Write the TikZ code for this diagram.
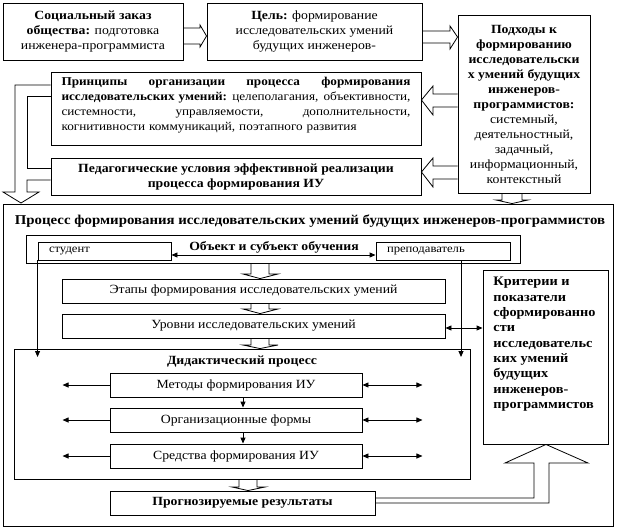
\documentclass[tikz,border=0pt]{standalone}
\usepackage{fontspec}
\setmainfont{Liberation Serif}[FakeStretch=1.1]
\usetikzlibrary{arrows.meta}
\newcommand\jl[1]{\leavevmode\hbox to \linewidth{#1}}
\begin{document}
\begin{tikzpicture}[x=1pt,y=-1pt, line width=0.9pt,
  box/.style={draw, fill=white, inner sep=0pt, align=center},
  blk/.style={draw, line width=0.8pt, line join=miter},
  tip/.style={-{Triangle[length=6pt,width=5pt]}},
  tips/.style={{Triangle[length=6pt,width=5pt]}-{Triangle[length=6pt,width=5pt]}},
  every node/.style={font=\fontsize{12.5}{15}\selectfont}]
\useasboundingbox (0,0) rectangle (618,530);
\fill[white] (0,0) rectangle (618,530);
% top row
\node[box, minimum width=180pt, minimum height=57pt] (soc) at (93,31.5)
  {\textbf{Социальный заказ}\\\textbf{общества:} подготовка\\инженера-программиста};
\node[box, minimum width=215pt, minimum height=57pt] (goal) at (314.5,31.5)
  {\textbf{Цель:} формирование\\исследовательских умений\\будущих инженеров-};
\node[box, minimum width=132pt, minimum height=178pt] (podh) at (524,104)
  {\textbf{Подходы к}\\\textbf{формированию}\\\textbf{исследовательски}\\\textbf{х умений будущих}\\\textbf{инженеров-}\\\textbf{программистов:}\\системный,\\деятельностный,\\задачный,\\информационный,\\контекстный};
\node[box, minimum width=370pt, minimum height=73pt] (princ) at (236,108.5) {};
\node[text width=349pt, align=left, inner sep=0pt, font=\fontsize{12}{15}\selectfont] (princT) at (236,105)
  {\jl{\bfseries Принципы\hfill организации\hfill процесса\hfill формирования}\\
   \jl{\textbf{исследовательских умений:}\hfill целеполагания,\hfill объективности,}\\
   \jl{системности,\hfill управляемости,\hfill дополнительности,}\\
   когнитивности коммуникаций, поэтапного развития};
\node[box, minimum width=370pt, minimum height=37pt] (ped) at (236,176.5)
  {\textbf{Педагогические условия эффективной реализации}\\\textbf{процесса формирования ИУ}};
% block arrows top
\draw[blk] (soc.east |- 0,28) -- (200,28) -- (200,25) -- (goal.west |- 0,36) -- (200,47) -- (200,44) -- (soc.east |- 0,44);
\draw[blk] (goal.east |- 0,31) -- (450,31) -- (450,26) -- (podh.west |- 0,37) -- (450,49) -- (450,43) -- (goal.east |- 0,43);
\draw[blk] (podh.west |- 0,94) -- (433,94) -- (433,86) -- (princ.east |- 0,100) -- (433,115) -- (433,107) -- (podh.west |- 0,107);
\draw[blk] (podh.west |- 0,166) -- (433,166) -- (433,158) -- (ped.east |- 0,172) -- (433,187) -- (433,179) -- (podh.west |- 0,179);
% left composite arrow
\draw[blk] (princ.west |- 0,85) -- (15,85) -- (15,192) -- (3,192) -- (21,203) -- (39,192) -- (27,192) -- (27,180) -- (ped.west |- 0,180);
\draw[blk] (princ.west |- 0,96) -- (27,96) -- (27,168) -- (ped.west |- 0,168);
% big box
\node[box, minimum width=610pt, minimum height=322pt] (big) at (308,365) {};
\node[inner sep=0pt, font=\fontsize{13.5}{15}\selectfont] (bigT) at (310,221) {\textbf{Процесс формирования исследовательских умений будущих инженеров-программистов}};
\draw[blk] (podh.south -| 502,0) -- (502,200) -- (496,200) -- (big.north -| 512,0) -- (528,200) -- (522,200) -- (podh.south -| 522,0);
% object/subject
\node[box, minimum width=494pt, minimum height=28pt] (obj) at (273,249) {};
\node[box, minimum width=133pt, minimum height=18pt] (stud) at (104.5,251) {};
\node[anchor=west, inner sep=0pt, font=\fontsize{11.5}{14}\selectfont] (studT) at ([xshift=11pt]stud.west) {студент};
\node[box, minimum width=134pt, minimum height=18pt] (prep) at (443,251) {};
\node[anchor=west, inner sep=0pt, font=\fontsize{11.5}{14}\selectfont] (prepT) at ([xshift=11pt]prep.west) {преподаватель};
\node[inner sep=0pt] (objT) at (274,247) {\textbf{Объект и субъект обучения}};
\draw[tips] (stud.east |- 0,255) -- (prep.west |- 0,255);
% criteria
\node[box, minimum width=125pt, minimum height=174pt] (krit) at (545.5,357) {};
\node[anchor=north west, align=left, inner sep=0pt, font=\fontsize{13}{15.3}\selectfont] (kritT) at (493,277)
  {\textbf{Критерии и}\\\textbf{показатели}\\\textbf{сформированно}\\\textbf{сти}\\\textbf{исследовательс}\\\textbf{ких умений}\\\textbf{будущих}\\\textbf{инженеров-}\\\textbf{программистов}};
% stages / levels
\node[box, minimum width=383pt, minimum height=24pt] (etap) at (253.5,291) {Этапы формирования исследовательских умений};
\node[box, minimum width=383pt, minimum height=24pt] (urov) at (253.5,326) {Уровни исследовательских умений};
\draw[blk] (obj.south -| 251,0) -- (251,274) -- (243,274) -- (etap.north -| 260,0) -- (278,274) -- (269,274) -- (obj.south -| 269,0);
\draw[blk] (etap.south -| 251,0) -- (251,309) -- (243,309) -- (urov.north -| 260,0) -- (278,309) -- (269,309) -- (etap.south -| 269,0);
\draw[tips] (urov.east |- 0,328) -- (krit.west |- 0,328);
% didactic process
\node[box, minimum width=456pt, minimum height=130pt] (did) at (242,414) {};
\node[inner sep=0pt] (didT) at (242,362) {\textbf{Дидактический процесс}};
\draw[blk] (urov.south -| 251,0) -- (251,345) -- (243,345) -- (did.north -| 260,0) -- (278,345) -- (269,345) -- (urov.south -| 269,0);
\draw[tip] (stud.south west) -- (stud.south west |- 0,357);
\draw[tip] (prep.south -| 461,0) -- (461,357);
\node[box, minimum width=252pt, minimum height=24pt] (met) at (236,385) {Методы формирования ИУ};
\node[box, minimum width=252pt, minimum height=24pt] (org) at (236,420) {Организационные формы};
\node[box, minimum width=252pt, minimum height=24pt] (sred) at (236,456) {Средства формирования ИУ};
\draw[tip] (met.south -| 243,0) -- (org.north -| 243,0);
\draw[tip] (org.south -| 243,0) -- (sred.north -| 243,0);
\foreach \b in {met,org,sred}{
  \draw[tip] (\b.west) -- ++(-47,0);
  \draw[tips] (\b.east) -- ++(60,0);
}
% results
\node[box, minimum width=265pt, minimum height=24pt] (prog) at (242.5,503) {\textbf{Прогнозируемые результаты}};
\draw[blk] (did.south -| 239,0) -- (239,487) -- (232,487) -- (prog.north -| 248,0) -- (265,487) -- (257,487) -- (did.south -| 257,0);
\draw[blk] (prog.east |- 0,498) -- (534,498) -- (534,463) -- (505,463) -- (krit.south -| 546,0) -- (588,463) -- (549,463) -- (549,503) -- (prog.east |- 0,503);
\end{tikzpicture}
\end{document}
